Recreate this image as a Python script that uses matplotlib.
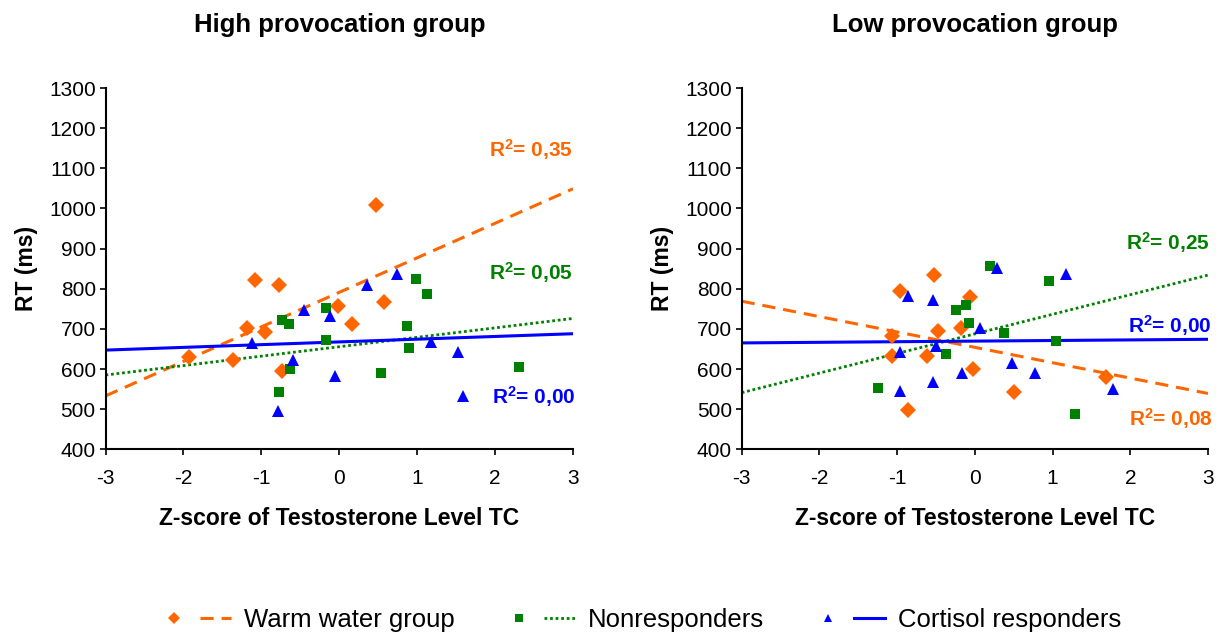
import matplotlib
matplotlib.use("Agg")
import matplotlib.pyplot as plt
import numpy as np
from matplotlib.lines import Line2D
from matplotlib.legend_handler import HandlerTuple

plt.rcParams['font.family'] = ['Liberation Sans', 'DejaVu Sans']
plt.rcParams['mathtext.fontset'] = 'custom'
plt.rcParams['mathtext.rm'] = 'Liberation Sans'
plt.rcParams['mathtext.bf'] = 'Liberation Sans:bold'

# ---------------- data ----------------
titles = ["High provocation group", "Low provocation group"]
series_names = ["Warm water group", "Nonresponders", "Cortisol responders"]

# High provocation group
high_warm_x = [-1.93, -1.37, -1.18, -1.08, -0.95, -0.77, -0.74, -0.01, 0.16, 0.47, 0.57]
high_warm_y = [630, 622, 702, 821, 691, 810, 595, 757, 713, 1008, 768]
high_non_x = [-0.74, -0.65, -0.17, -0.17, -0.63, -0.77, 0.98, 1.12, 0.87, 0.89, 0.54, 2.31]
high_non_y = [722, 712, 752, 672, 600, 543, 823, 786, 708, 652, 589, 606]
high_cort_x = [-1.12, -0.45, -0.12, -0.60, -0.06, -0.79, 0.36, 0.74, 1.18, 1.53, 1.59]
high_cort_y = [665, 747, 733, 623, 583, 496, 809, 836, 668, 642, 533]

# Low provocation group
low_warm_x = [-0.52, -0.96, -0.06, -0.48, -0.18, -1.06, -1.06, -0.61, -0.03, -0.86, 0.50, 1.69]
low_warm_y = [835, 795, 780, 695, 703, 682, 632, 632, 601, 498, 543, 580]
low_non_x = [-1.24, -0.24, -0.12, -0.07, -0.37, 0.20, 0.95, 0.37, 1.05, 1.29]
low_non_y = [552, 748, 759, 715, 638, 856, 820, 690, 671, 489]
low_cort_x = [-0.86, -0.54, -0.96, -0.50, -0.54, -0.96, -0.17, 0.07, 0.29, 1.17, 0.48, 0.78, 1.78]
low_cort_y = [782, 772, 642, 658, 568, 546, 591, 702, 851, 836, 614, 591, 550]

# linear trend lines (intercept, slope): warm, non, cortisol
high_trend_intercept = [791, 655.5, 667.5]
high_trend_slope = [86.0, 23.5, 6.8]
low_trend_intercept = [654, 687.5, 669.5]
low_trend_slope = [-38.3, 48.8, 1.5]

high_r2 = ["0,35", "0,05", "0,00"]
low_r2 = ["0,08", "0,25", "0,00"]

x_ticks = [-3, -2, -1, 0, 1, 2, 3]
y_ticks = [400, 500, 600, 700, 800, 900, 1000, 1100, 1200, 1300]

# ---------------- styles ----------------
colors = ["#FF6600", "#008000", "#0000FF"]
markers = ["D", "s", "^"]
msizes = [8.6, 7.0, 8.0]
line_kw = [dict(dashes=(4.3, 2.6), lw=2.2),
           dict(dashes=(1.0, 1.0), lw=2.0),
           dict(linestyle='-', lw=2.2)]
# label positions (axes fraction, right edge / baseline)
high_label_pos = [(1.0, 0.809), (1.0, 0.469), (1.006, 0.125)]
low_label_pos = [(1.011, 0.064), (1.004, 0.552), (1.009, 0.322)]

fig = plt.figure(figsize=(12.22, 6.35), dpi=100)
ax_l = fig.add_axes([105.5 / 1222, 1 - 449.3 / 635, 467.5 / 1222, 361.3 / 635])
ax_r = fig.add_axes([741.7 / 1222, 1 - 449.3 / 635, 466.3 / 1222, 361.3 / 635])

panels = [
    (ax_l, titles[0], [(high_warm_x, high_warm_y), (high_non_x, high_non_y), (high_cort_x, high_cort_y)],
     high_trend_intercept, high_trend_slope, high_r2, high_label_pos),
    (ax_r, titles[1], [(low_warm_x, low_warm_y), (low_non_x, low_non_y), (low_cort_x, low_cort_y)],
     low_trend_intercept, low_trend_slope, low_r2, low_label_pos),
]

xs_line = np.array([x_ticks[0], x_ticks[-1]], dtype=float)
for ax, title, pts, icpt, slp, r2, lpos in panels:
    for i, (xv, yv) in enumerate(pts):
        ax.plot(xv, yv, linestyle='none', marker=markers[i], ms=msizes[i],
                color=colors[i], markeredgewidth=0, zorder=3)
        ax.plot(xs_line, icpt[i] + slp[i] * xs_line, color=colors[i], zorder=2,
                solid_capstyle='butt', dash_capstyle='butt', **line_kw[i])
        ax.text(lpos[i][0], lpos[i][1], r'$\mathbf{R^{2}}$= ' + r2[i], transform=ax.transAxes,
                ha='right', va='baseline', color=colors[i], fontsize=15, fontweight='bold')
    ax.set_xlim(x_ticks[0], x_ticks[-1])
    ax.set_ylim(y_ticks[0], y_ticks[-1])
    ax.set_xticks(x_ticks)
    ax.set_yticks(y_ticks)
    ax.set_xticklabels([str(t) for t in x_ticks])
    ax.spines['top'].set_visible(False)
    ax.spines['right'].set_visible(False)
    for s in ['left', 'bottom']:
        ax.spines[s].set_linewidth(1.5)
    ax.tick_params(axis='both', direction='out', length=4, width=1.2, labelsize=15)
    ax.tick_params(axis='x', pad=10)
    ax.tick_params(axis='y', pad=3)
    ax.set_xlabel("Z-score of Testosterone Level TC", fontsize=16.5, fontweight='bold', labelpad=14)
    ax.set_ylabel("RT (ms)", fontsize=16.5, fontweight='bold', labelpad=8)
    ax.set_title(title, fontsize=18.5, fontweight='bold', pad=40)

handles = []
for i in range(3):
    m = Line2D([], [], linestyle='none', marker=markers[i], ms=msizes[i] * 0.75,
               color=colors[i], markeredgewidth=0)
    l = Line2D([], [], color=colors[i], **line_kw[i])
    handles.append((m, l))

fig.legend(handles, series_names, loc='center', bbox_to_anchor=(640 / 1222, 1 - 620 / 635),
           ncol=3, frameon=False, fontsize=18.5, handlelength=2.8, handletextpad=0.5,
           columnspacing=1.9, handler_map={tuple: HandlerTuple(ndivide=None, pad=0.4)})

fig.savefig("out.png", dpi=100)
